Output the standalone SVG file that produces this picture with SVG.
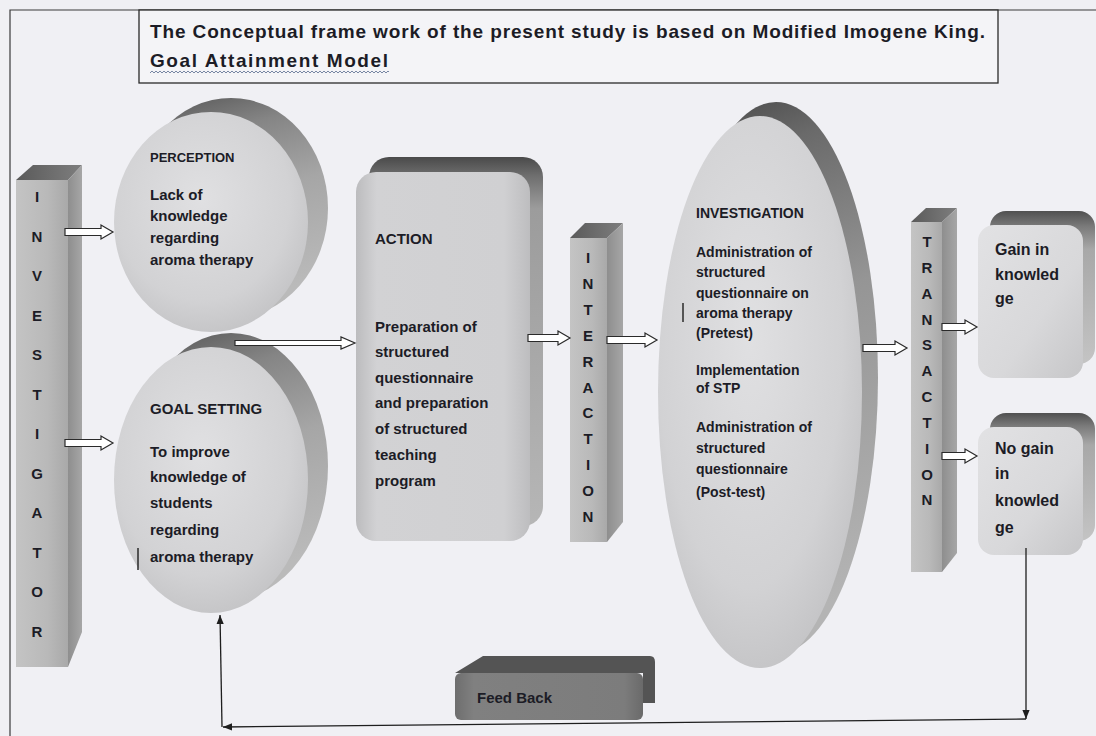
<svg xmlns="http://www.w3.org/2000/svg" width="1096" height="736" viewBox="0 0 1096 736">
<defs>
<style>
.t{font-family:"Liberation Sans",Arial,sans-serif;font-weight:bold;fill:#1c1c26}
.b15{font-size:15px}
.b13{font-size:13px}
.b14{font-size:14px}
.b16{font-size:16px}
.ltr{font-size:15px;text-anchor:middle}
.harrow{fill:#ffffff;stroke:#2a2a2a;stroke-width:1.2;stroke-linejoin:miter}
.fb{fill:none;stroke:#1e1e1e;stroke-width:1.3}
.mark{stroke:#1e1e1e;stroke-width:1.4}
</style>
<linearGradient id="barFront" x1="0" y1="0" x2="1" y2="0">
<stop offset="0" stop-color="#c4c4c4"/><stop offset="0.6" stop-color="#b9b9b9"/><stop offset="1" stop-color="#a9a9a9"/>
</linearGradient>
<linearGradient id="barSide" x1="0" y1="0" x2="1" y2="0">
<stop offset="0" stop-color="#8e8e8e"/><stop offset="1" stop-color="#a6a6a6"/>
</linearGradient>
<linearGradient id="barTop" x1="0" y1="0" x2="1" y2="0">
<stop offset="0" stop-color="#5a5a5a"/><stop offset="1" stop-color="#7e7e7e"/>
</linearGradient>
<radialGradient id="discFront" cx="0.45" cy="0.4" r="0.65">
<stop offset="0" stop-color="#e0e0e2"/><stop offset="0.7" stop-color="#d2d2d4"/><stop offset="1" stop-color="#c2c2c4"/>
</radialGradient>
<linearGradient id="discBack" x1="0" y1="0" x2="0.25" y2="1">
<stop offset="0" stop-color="#525252"/><stop offset="0.25" stop-color="#858585"/><stop offset="0.55" stop-color="#a6a6a6"/><stop offset="1" stop-color="#bababa"/>
</linearGradient>
<linearGradient id="ovalBack" x1="0" y1="0" x2="0.15" y2="1">
<stop offset="0" stop-color="#454545"/><stop offset="0.15" stop-color="#6a6a6a"/><stop offset="0.45" stop-color="#959595"/><stop offset="1" stop-color="#b4b4b4"/>
</linearGradient>
<linearGradient id="boxFront" x1="0" y1="0" x2="1" y2="0">
<stop offset="0" stop-color="#bcbcbe"/><stop offset="0.12" stop-color="#d2d2d4"/><stop offset="0.85" stop-color="#d0d0d2"/><stop offset="1" stop-color="#bdbdbf"/>
</linearGradient>
<linearGradient id="boxBack" x1="0" y1="0" x2="0" y2="1">
<stop offset="0" stop-color="#4a4a4a"/><stop offset="0.05" stop-color="#6e6e6e"/><stop offset="0.14" stop-color="#9c9c9c"/><stop offset="1" stop-color="#b6b6b6"/>
</linearGradient>
<linearGradient id="smallBack" x1="0" y1="0" x2="0" y2="1">
<stop offset="0" stop-color="#505050"/><stop offset="0.1" stop-color="#7a7a7a"/><stop offset="0.25" stop-color="#a8a8a8"/><stop offset="1" stop-color="#c4c4c4"/>
</linearGradient>
<linearGradient id="smallFront" x1="0" y1="0" x2="1" y2="1">
<stop offset="0" stop-color="#e2e2e4"/><stop offset="0.6" stop-color="#d8d8da"/><stop offset="1" stop-color="#c6c6c8"/>
</linearGradient>
<linearGradient id="fbFront" x1="0" y1="0" x2="1" y2="0">
<stop offset="0" stop-color="#6e6e6e"/><stop offset="0.1" stop-color="#808080"/><stop offset="0.9" stop-color="#7c7c7c"/><stop offset="1" stop-color="#6a6a6a"/>
</linearGradient>
<pattern id="wave" x="150" y="70" width="4" height="4" patternUnits="userSpaceOnUse">
<path d="M0,3 L2,1 L4,3" fill="none" stroke="#6a7a9a" stroke-width="0.9"/>
</pattern>
<marker id="ah" viewBox="0 0 10 10" refX="10" refY="5" markerWidth="9" markerHeight="9" markerUnits="userSpaceOnUse" orient="auto">
<path d="M0,1 L10,5 L0,9 Z" fill="#1e1e1e"/>
</marker>
</defs>

<rect x="0" y="0" width="1096" height="736" fill="#f0f0f4"/>

<g id="frame">
<path d="M10,736 V10 H1096" fill="none" stroke="#3a3a3a" stroke-width="1.2"/>
</g>

<g id="title">
<rect x="139" y="10" width="859" height="73" fill="#f4f4f7" stroke="#2a2a2a" stroke-width="1.3"/>
<text class="t" x="150" y="38" font-size="19" textLength="835">The Conceptual frame work of the present study is based on Modified Imogene King.</text>
<text class="t" x="150" y="67" font-size="19" textLength="238">Goal Attainment Model</text>
<rect x="150" y="70" width="239" height="4" fill="url(#wave)"/>
</g>

<g id="investigator">
<polygon points="16,180 33,165 82,165 68,180" fill="url(#barTop)"/>
<polygon points="68,180 82,165 82,632 68,667" fill="url(#barSide)"/>
<rect x="16" y="180" width="52" height="487" fill="url(#barFront)"/>
<text class="t ltr" x="37" y="202">I</text>
<text class="t ltr" x="37" y="242">N</text>
<text class="t ltr" x="37" y="281">V</text>
<text class="t ltr" x="37" y="321">E</text>
<text class="t ltr" x="37" y="360">S</text>
<text class="t ltr" x="37" y="400">T</text>
<text class="t ltr" x="37" y="439">I</text>
<text class="t ltr" x="37" y="479">G</text>
<text class="t ltr" x="37" y="518">A</text>
<text class="t ltr" x="37" y="558">T</text>
<text class="t ltr" x="37" y="597">O</text>
<text class="t ltr" x="37" y="637">R</text>
</g>

<g id="perception">
<ellipse cx="231" cy="208" rx="97" ry="110" fill="url(#discBack)"/>
<ellipse cx="211" cy="222" rx="97" ry="110" fill="url(#discFront)"/>
<text class="t b13" x="150" y="162">PERCEPTION</text>
<text class="t b15" x="150" y="200">Lack of</text>
<text class="t b15" x="150" y="221">knowledge</text>
<text class="t b15" x="150" y="243">regarding</text>
<text class="t b15" x="150" y="265">aroma therapy</text>
</g>

<g id="goal-setting">
<ellipse cx="231" cy="466" rx="97" ry="133" fill="url(#discBack)"/>
<ellipse cx="211" cy="480" rx="97" ry="133" fill="url(#discFront)"/>
<text class="t b15" x="150" y="414">GOAL SETTING</text>
<text class="t b15" x="150" y="457">To improve</text>
<text class="t b15" x="150" y="482">knowledge of</text>
<text class="t b15" x="150" y="508">students</text>
<text class="t b15" x="150" y="535">regarding</text>
<text class="t b15" x="150" y="562">aroma therapy</text>
<line class="mark" x1="138" y1="548" x2="138" y2="570"/>
</g>

<g id="action">
<rect x="369" y="157" width="174" height="369" rx="20" fill="url(#boxBack)"/>
<rect x="356" y="172" width="174" height="369" rx="20" fill="url(#boxFront)"/>
<text class="t b15" x="375" y="244">ACTION</text>
<text class="t b15" x="375" y="332">Preparation of</text>
<text class="t b15" x="375" y="357">structured</text>
<text class="t b15" x="375" y="383">questionnaire</text>
<text class="t b15" x="375" y="408">and preparation</text>
<text class="t b15" x="375" y="434">of structured</text>
<text class="t b15" x="375" y="460">teaching</text>
<text class="t b15" x="375" y="486">program</text>
</g>

<g id="interaction">
<polygon points="570,238 585,223 623,223 607,238" fill="url(#barTop)"/>
<polygon points="607,238 623,223 623,522 607,542" fill="url(#barSide)"/>
<rect x="570" y="238" width="37" height="304" fill="url(#barFront)"/>
<text class="t ltr" x="588" y="263">I</text>
<text class="t ltr" x="588" y="289">N</text>
<text class="t ltr" x="588" y="315">T</text>
<text class="t ltr" x="588" y="341">E</text>
<text class="t ltr" x="588" y="367">R</text>
<text class="t ltr" x="588" y="393">A</text>
<text class="t ltr" x="588" y="418">C</text>
<text class="t ltr" x="588" y="444">T</text>
<text class="t ltr" x="588" y="470">I</text>
<text class="t ltr" x="588" y="496">O</text>
<text class="t ltr" x="588" y="522">N</text>
</g>

<g id="investigation">
<ellipse cx="776" cy="378" rx="102" ry="276" fill="url(#ovalBack)"/>
<ellipse cx="760" cy="392" rx="102" ry="276" fill="url(#discFront)"/>
<text class="t b14" x="696" y="218">INVESTIGATION</text>
<text class="t b14" x="696" y="257">Administration of</text>
<text class="t b14" x="696" y="277">structured</text>
<text class="t b14" x="696" y="298">questionnaire on</text>
<text class="t b14" x="696" y="318">aroma therapy</text>
<text class="t b14" x="696" y="338">(Pretest)</text>
<text class="t b14" x="696" y="375">Implementation</text>
<text class="t b14" x="696" y="393">of STP</text>
<text class="t b14" x="696" y="432">Administration of</text>
<text class="t b14" x="696" y="453">structured</text>
<text class="t b14" x="696" y="474">questionnaire</text>
<text class="t b14" x="696" y="497">(Post-test)</text>
<line class="mark" x1="683" y1="303" x2="683" y2="322"/>
</g>

<g id="transaction">
<polygon points="911,222 926,208 957,208 942,222" fill="url(#barTop)"/>
<polygon points="942,222 957,208 957,553 942,572" fill="url(#barSide)"/>
<rect x="911" y="222" width="31" height="350" fill="url(#barFront)"/>
<text class="t ltr" x="927" y="247">T</text>
<text class="t ltr" x="927" y="273">R</text>
<text class="t ltr" x="927" y="299">A</text>
<text class="t ltr" x="927" y="325">N</text>
<text class="t ltr" x="927" y="350">S</text>
<text class="t ltr" x="927" y="376">A</text>
<text class="t ltr" x="927" y="402">C</text>
<text class="t ltr" x="927" y="428">T</text>
<text class="t ltr" x="927" y="454">I</text>
<text class="t ltr" x="927" y="480">O</text>
<text class="t ltr" x="927" y="505">N</text>
</g>

<g id="gain">
<rect x="990" y="211" width="105" height="153" rx="16" fill="url(#smallBack)"/>
<rect x="978" y="225" width="105" height="153" rx="16" fill="url(#smallFront)"/>
<text class="t b16" x="995" y="255">Gain in</text>
<text class="t b16" x="995" y="280">knowled</text>
<text class="t b16" x="995" y="304">ge</text>
</g>

<g id="no-gain">
<rect x="990" y="413" width="105" height="128" rx="16" fill="url(#smallBack)"/>
<rect x="978" y="427" width="105" height="128" rx="16" fill="url(#smallFront)"/>
<text class="t b16" x="995" y="454">No gain</text>
<text class="t b16" x="995" y="479">in</text>
<text class="t b16" x="995" y="506">knowled</text>
<text class="t b16" x="995" y="533">ge</text>
</g>

<g id="feedback">
<path d="M455,673 L483,656 H650 Q655,656 655,662 V703 H643 V673 Z" fill="#545454"/>
<rect x="455" y="673" width="188" height="47" rx="6" fill="url(#fbFront)"/>
<text class="t b15" x="477" y="703">Feed Back</text>
</g>

<g id="connectors">
<path class="harrow" d="M65,228.5 H101 V225 L113,232 L101,239 V235.5 H65 Z"/>
<path class="harrow" d="M65,439.5 H101 V436 L113,443 L101,450 V446.5 H65 Z"/>
<path class="harrow" d="M235,340.5 H341 V337 L355,343 L341,349 V345.5 H235 Z"/>
<path class="harrow" d="M528,334.5 H558 V331 L570,338 L558,345 V341.5 H528 Z"/>
<path class="harrow" d="M607,336.5 H645 V333 L657,340 L645,347 V343.5 H607 Z"/>
<path class="harrow" d="M863,344.5 H895 V341 L907,348 L895,355 V351.5 H863 Z"/>
<path class="harrow" d="M942,323.5 H965 V320 L977,327 L965,334 V330.5 H942 Z"/>
<path class="harrow" d="M942,452.5 H965 V449 L977,456 L965,463 V459.5 H942 Z"/>
<line class="fb" x1="1026" y1="548" x2="1026" y2="719" marker-end="url(#ah)"/>
<line class="fb" x1="1026" y1="719" x2="223" y2="727" marker-end="url(#ah)"/>
<line class="fb" x1="222" y1="727" x2="220" y2="615" marker-end="url(#ah)"/>
</g>
</svg>
